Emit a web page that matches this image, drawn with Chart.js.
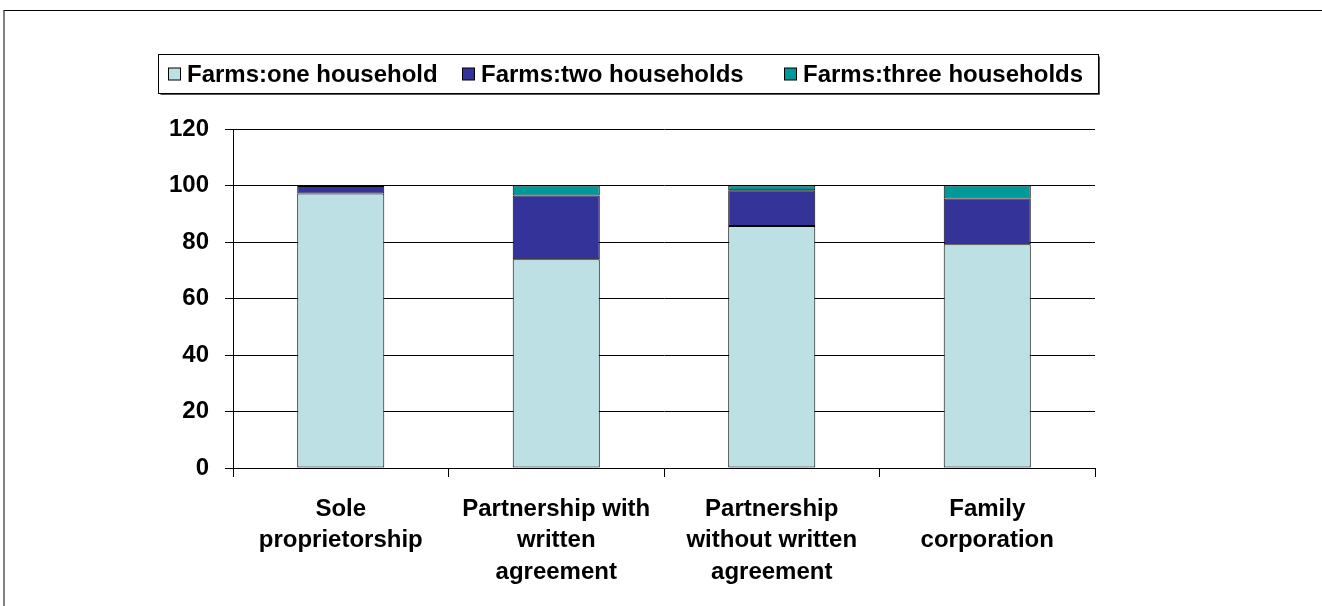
<!DOCTYPE html>
<html>
<head>
<meta charset="utf-8">
<title>Farms by household count</title>
<script src="https://cdn.jsdelivr.net/npm/chart.js@4.4.1/dist/chart.umd.min.js"></script>
<style>
  html,body{margin:0;padding:0;background:#fff;}
  #wrap{position:relative;width:1322px;height:606px;overflow:hidden;}
  #frame{position:absolute;left:3px;top:10px;right:-5px;bottom:-5px;border-left:2px solid #808080;border-top:1px solid #000;}
  #myChart{position:absolute;left:0;top:0;}
</style>
</head>
<body>
<div id="wrap">
  <div id="frame"></div>
  <canvas id="myChart" width="1322" height="606"></canvas>
</div>
<script>
'use strict';
let categories=[
  ['Sole','proprietorship'],
  ['Partnership with','written','agreement'],
  ['Partnership','without written','agreement'],
  ['Family','corporation']
];
let seriesNames=['Farms:one household','Farms:two households','Farms:three households'];
let oneHousehold=[97.2,73.9,85.7,79.2];
let twoHouseholds=[2.6,22.6,12.6,16.2];
let threeHouseholds=[0.2,3.5,1.7,4.6];
let yTicks=[0,20,40,60,80,100,120];

let seriesColors=['#bce0e3','#333399','#009999'];
let fontMain={family:'"Liberation Sans", Arial, sans-serif',size:24,weight:'bold',lineHeight:1.3};

// legend sits in a framed box above the plot
let legendItemX=[168,462,784];
let legendBox={x:158.5,y:54.5,w:940,h:39};

let boxedLegend={
  id:'boxedLegend',
  afterDraw(chart){
    let ctx=chart.ctx;
    ctx.save();
    ctx.fillStyle='#fff';
    ctx.fillRect(legendBox.x,legendBox.y,legendBox.w,legendBox.h);
    ctx.strokeStyle='#000';
    ctx.lineWidth=1;
    ctx.strokeRect(legendBox.x,legendBox.y,legendBox.w,legendBox.h);
    // small drop shadow on right and bottom
    ctx.strokeStyle='#555';
    ctx.beginPath();
    ctx.moveTo(legendBox.x+legendBox.w+1,legendBox.y+2);
    ctx.lineTo(legendBox.x+legendBox.w+1,legendBox.y+legendBox.h+1);
    ctx.lineTo(legendBox.x+2,legendBox.y+legendBox.h+1);
    ctx.stroke();
    ctx.font='bold 24px "Liberation Sans", Arial, sans-serif';
    ctx.textBaseline='middle';
    let cy=legendBox.y+legendBox.h/2;
    chart.data.datasets.forEach(function(ds,i){
      let x=legendItemX[i];
      ctx.fillStyle=ds.backgroundColor;
      ctx.fillRect(x+0.5,cy-6,12,12);
      ctx.strokeStyle='#000';
      ctx.strokeRect(x+0.5,cy-6,12,12);
      ctx.fillStyle='#000';
      ctx.fillText(ds.label,x+19,cy+1);
    });
    ctx.restore();
  }
};

function makeChart(){
  let ctx=document.getElementById('myChart');
  let myChart=new Chart(ctx,{
    type:'bar',
    data:{
      labels:categories,
      datasets:[{
        label:seriesNames[0],
        data:oneHousehold,
        backgroundColor:seriesColors[0],
        borderColor:'#000',
        borderWidth:1
      },{
        label:seriesNames[1],
        data:twoHouseholds,
        backgroundColor:seriesColors[1],
        borderColor:'#000',
        borderWidth:1
      },{
        label:seriesNames[2],
        data:threeHouseholds,
        backgroundColor:seriesColors[2],
        borderColor:'#000',
        borderWidth:1
      }]
    },
    options:{
      responsive:false,
      animation:false,
      layout:{padding:{left:0,top:129,right:227,bottom:0}},
      datasets:{bar:{borderSkipped:false,categoryPercentage:1,barPercentage:0.404}},
      plugins:{legend:{display:false},tooltip:{enabled:false}},
      scales:{
        x:{
          stacked:true,
          afterFit(scale){scale.height=138;},
          grid:{display:true,drawOnChartArea:false,offset:true,color:'#000',tickLength:9,lineWidth:1},
          border:{color:'#000',width:1},
          ticks:{color:'#000',font:fontMain,maxRotation:0,autoSkip:false,padding:17}
        },
        y:{
          stacked:true,
          min:0,
          max:120,
          afterFit(scale){scale.width=233;},
          afterBuildTicks(scale){scale.ticks=yTicks.map(function(v){return {value:v};});},
          grid:{color:'#000',tickLength:8,lineWidth:1},
          border:{color:'#000',width:1},
          ticks:{color:'#000',font:fontMain,padding:16}
        }
      }
    },
    plugins:[boxedLegend]
  });
  return myChart;
}

makeChart();
</script>
</body>
</html>
